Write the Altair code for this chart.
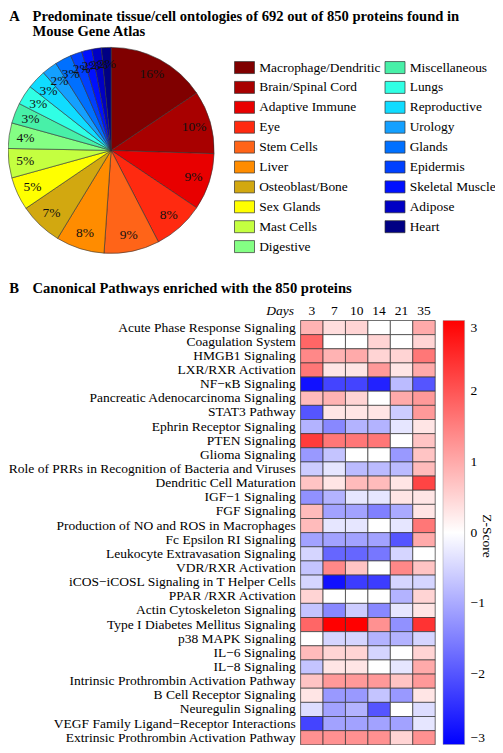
import altair as alt
import pandas as pd

FONT = "Liberation Serif"

# ---------------- Panel A data ----------------
tissues = ["Macrophage/Dendritic", "Brain/Spinal Cord", "Adaptive Immune", "Eye",
           "Stem Cells", "Liver", "Osteoblast/Bone", "Sex Glands", "Mast Cells",
           "Digestive", "Miscellaneous", "Lungs", "Reproductive", "Urology",
           "Glands", "Epidermis", "Skeletal Muscle", "Adipose", "Heart"]
tissue_pct = [15.6, 9.9, 8.9, 8.0, 8.7, 7.6, 6.8, 5.2, 4.6, 4.0,
              3.2, 3.1, 3.0, 2.4, 2.6, 1.8, 1.6, 1.5, 1.5]
tissue_labels = ["16%", "10%", "9%", "8%", "9%", "8%", "7%", "5%", "5%", "4%",
                 "3%", "3%", "3%", "2%", "3%", "2%", "2%", "2%", "2%"]
tissue_colors = ["#800000", "#a80000", "#e80000", "#ff2a10", "#ff6418", "#ff8c00",
                 "#d2a810", "#ffff00", "#c4ff40", "#84ff84", "#48f0a8", "#30ffe4",
                 "#10dcff", "#14a0ff", "#0070ff", "#0040ff", "#0010ff", "#0000c4",
                 "#000084"]

# ---------------- Panel B data ----------------
pathways = ["Acute Phase Response Signaling", "Coagulation System", "HMGB1 Signaling",
            "LXR/RXR Activation", "NF\u2212\u03baB Signaling",
            "Pancreatic Adenocarcinoma Signaling", "STAT3 Pathway",
            "Ephrin Receptor Signaling", "PTEN Signaling", "Glioma Signaling",
            "Role of PRRs in Recognition of Bacteria and Viruses",
            "Dendritic Cell Maturation", "IGF\u22121 Signaling", "FGF Signaling",
            "Production of NO and ROS in Macrophages", "Fc Epsilon RI Signaling",
            "Leukocyte Extravasation Signaling", "VDR/RXR Activation",
            "iCOS\u2212iCOSL Signaling in T Helper Cells", "PPAR /RXR  Activation",
            "Actin Cytoskeleton Signaling", "Type I Diabetes Mellitus Signaling",
            "p38 MAPK Signaling", "IL\u22126 Signaling", "IL\u22128 Signaling",
            "Intrinsic Prothrombin Activation Pathway", "B Cell Receptor Signaling",
            "Neuregulin Signaling", "VEGF Family Ligand\u2212Receptor Interactions",
            "Extrinsic Prothrombin Activation Pathway"]
days = ["3", "7", "10", "14", "21", "35"]
z_day3 = [0.9, 1.8, 1.4, 1.6, -2.8, 0.8, -2.0, -0.9, 2.3, -1.2, -0.6, 0.7, -1.3, 0.8, 0.8,
          -1.1, -0.5, -0.7, -0.5, 0.5, -0.7, 1.8, 0.0, 0.8, -0.7, 0.7, 0.3, -0.4, -2.2, 1.3]
z_day7 = [0.4, 0.0, 0.9, 0.3, -2.2, 0.9, 0.3, -1.4, 1.6, -0.7, -0.3, 0.3, -0.9, -1.1, -0.3,
          -1.1, -1.8, 1.4, -2.8, 0.0, -1.4, 3.0, -0.5, 0.5, 0.3, 1.2, -1.2, -1.1, -1.1, 1.3]
z_day10 = [0.5, 0.0, 1.0, 0.3, -2.2, 0.5, 0.3, -0.9, 1.6, 0.0, -0.8, 0.8, -0.3, -1.1, -0.3,
           -1.1, -1.8, 0.7, -2.3, 0.0, -0.6, 3.0, -0.5, 0.5, 0.3, 1.2, -1.2, -0.9, -1.1, 1.3]
z_day14 = [0.0, 0.5, 0.5, 1.2, -2.6, 0.0, 0.3, -0.9, 1.6, 0.0, -0.8, 0.8, -0.3, -1.5, 0.0,
           -1.1, -1.6, 0.0, -2.3, 0.0, -1.4, 1.3, -0.9, -0.5, 0.0, 1.2, -0.7, -2.0, -1.1, 1.3]
z_day21 = [0.0, 0.0, 0.5, 0.3, -0.8, 1.0, -0.6, -0.3, 0.0, -1.2, -0.8, 0.3, 0.3, -1.0, -0.3,
           -2.0, -0.5, 1.4, -0.5, -0.9, -0.3, -1.3, -0.9, 0.0, -0.3, 0.7, -1.2, 0.0, -1.1, 0.5]
z_day35 = [1.0, 0.5, 1.6, 1.0, -2.0, 1.2, 1.2, 0.3, 0.7, 0.7, 0.8, 2.2, 0.3, 0.3, 1.6,
           1.0, 0.0, 0.7, -0.5, 0.5, 0.3, 2.4, -0.5, 0.5, 1.0, 1.2, 0.3, -0.4, -0.3, 1.3]
z_columns = [z_day3, z_day7, z_day10, z_day14, z_day21, z_day35]

# ---------------- tables ----------------
pie_df = pd.DataFrame({"tissue": tissues, "pct": tissue_pct,
                       "label": tissue_labels, "idx": list(range(len(tissues)))})

rows = []
for d, col in zip(days, z_columns):
    for p, v in zip(pathways, col):
        rows.append({"day": d, "pathway": p, "z": v})
heat_df = pd.DataFrame(rows)
path_df = pd.DataFrame({"pathway": pathways})
day_df = pd.DataFrame({"day": days})
one = pd.DataFrame({"k": [0]})

W, H = 487, 737
HX0, HX1 = 292.6, 427.2
HY0, HY1 = 312.5, 736.8
PCX, PCY, PR = 103.1, 142.4, 103

xs = alt.Scale(domain=days, range=[HX0, HX1], paddingInner=0, paddingOuter=0)
ys = alt.Scale(domain=pathways, range=[HY0, HY1], paddingInner=0, paddingOuter=0)


def txt(s, x, y, size=14.6, weight="normal", align="left", style="normal", angle=0,
        baseline="alphabetic"):
    return alt.Chart(one).mark_text(
        font=FONT, fontSize=size, fontWeight=weight, align=align, fontStyle=style,
        angle=angle, baseline=baseline, color="black"
    ).encode(x=alt.value(x), y=alt.value(y), text=alt.value(s))


titles = [
    txt("A", 1.3, 12.8, weight="bold"),
    txt("Predominate tissue/cell ontologies of 692 out of 850 proteins found in", 24.5, 12.8, weight="bold"),
    txt("Mouse Gene Atlas", 24.5, 27.8, weight="bold"),
    txt("B", 1.3, 284.8, weight="bold"),
    txt("Canonical Pathways enriched with the 850 proteins", 24.5, 284.8, weight="bold"),
    txt("Days", 286, 306.6, size=13.5, align="right", style="italic"),
    txt("Z-Score", 479.2, 528, size=13.5, align="center", angle=90, baseline="middle"),
]

pie = alt.Chart(pie_df).mark_arc(
    outerRadius=PR, stroke="#333333", strokeWidth=0.6
).encode(
    theta=alt.Theta("pct:Q", stack=True),
    order=alt.Order("idx:Q"),
    color=alt.Color(
        "tissue:N",
        scale=alt.Scale(domain=tissues, range=tissue_colors),
        legend=alt.Legend(
            title=None, orient="none", legendX=226, legendY=49, columns=2,
            symbolType="M-1,-0.6H1V0.6H-1Z", symbolSize=400,
            symbolStrokeColor="#333333", symbolStrokeWidth=0.7, symbolOpacity=1,
            labelFont=FONT, labelFontSize=13.4, labelColor="black",
            labelOffset=4.2, rowPadding=1.9, columnPadding=2.5, padding=0,
            labelLimit=300,
        ),
    ),
    x=alt.value(PCX), y=alt.value(PCY),
)

pie_text = alt.Chart(pie_df).mark_text(
    radius=86.5, font=FONT, fontSize=13.5, color="#111111"
).encode(
    theta=alt.Theta("pct:Q", stack=True),
    order=alt.Order("idx:Q"),
    text="label:N",
    x=alt.value(PCX), y=alt.value(PCY),
)

heat = alt.Chart(heat_df).mark_rect(stroke="#333333", strokeWidth=0.7).encode(
    x=alt.X("day:N", scale=xs, axis=None),
    y=alt.Y("pathway:N", scale=ys, axis=None),
    color=alt.Color(
        "z:Q",
        scale=alt.Scale(domain=[-3, 0, 3], range=["#0000ff", "#ffffff", "#ff0000"],
                        interpolate="rgb"),
        legend=alt.Legend(
            title=None, orient="none", legendX=435, legendY=312.5,
            direction="vertical", gradientLength=424, gradientThickness=21.6,
            gradientStrokeColor="#999999", gradientStrokeWidth=0.5,
            values=[-3, -2, -1, 0, 1, 2, 3], labelFont=FONT, labelFontSize=13.5,
            labelColor="black", labelOffset=6, padding=0,
        ),
    ),
)

row_labels = alt.Chart(path_df).mark_text(
    font=FONT, fontSize=13.5, align="right", baseline="middle", color="black"
).encode(
    y=alt.Y("pathway:N", scale=ys, axis=None),
    x=alt.value(287.7),
    text="pathway:N",
)

col_labels = alt.Chart(day_df).mark_text(
    font=FONT, fontSize=13.5, align="center", baseline="alphabetic", color="black"
).encode(
    x=alt.X("day:N", scale=xs, axis=None),
    y=alt.value(306.6),
    text="day:N",
)

chart = alt.layer(
    pie, pie_text, heat, row_labels, col_labels, *titles
).resolve_scale(color="independent").properties(
    width=W, height=H, autosize="none", padding=0
).configure_view(stroke=None)

chart.save("out.html", embed_options={"renderer": "svg", "actions": False})
